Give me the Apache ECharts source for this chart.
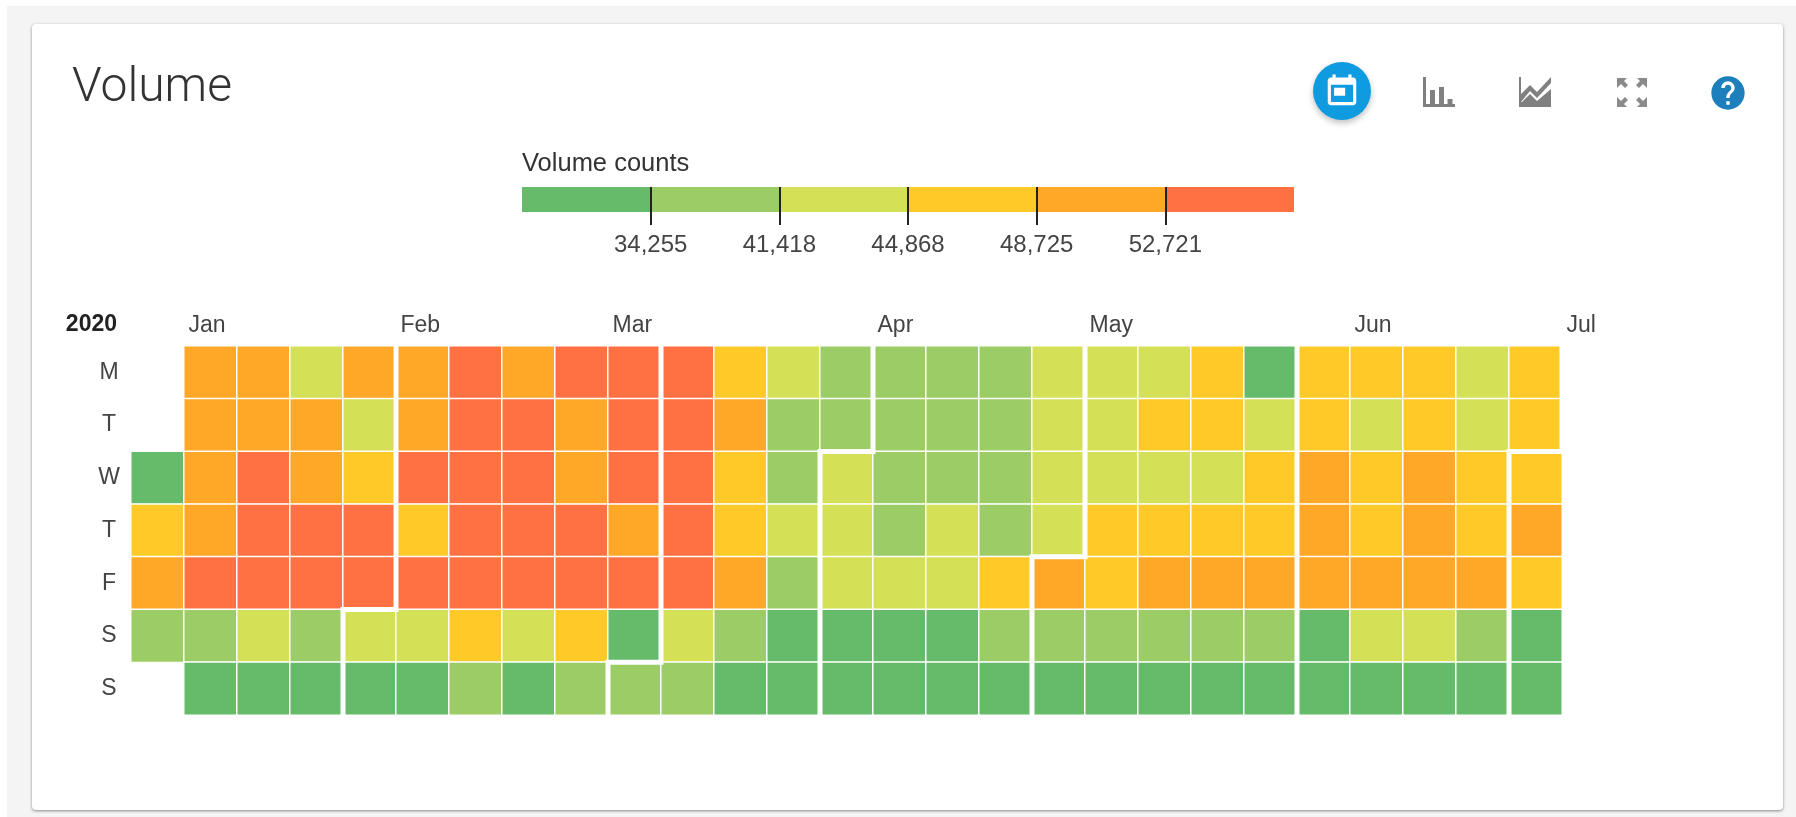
<!DOCTYPE html>
<html>
<head>
<meta charset="utf-8">
<title>Volume</title>
<script src="https://cdn.jsdelivr.net/npm/echarts@6/dist/echarts.min.js"></script>
<style>
    html, body { margin: 0; height: 100%; background: #fff; overflow: hidden; }
    .page { position: absolute; left: 7px; top: 6px; right: 0; bottom: 0; background: #f4f4f4; }
    .card {
        position: absolute; left: 32px; top: 24px; width: 1751px; height: 786px;
        background: #fff; border-radius: 4px; box-shadow: 0 1px 3px rgba(0, 0, 0, .45);
    }
    #chart { position: absolute; left: 0; top: 0; width: 1796px; height: 817px; }
    .icon { position: absolute; }
    .active { left: 1313px; top: 62px; width: 58px; height: 58px; border-radius: 50%; background: #0f9be0; box-shadow: 0 3px 6px rgba(0, 0, 0, .25); }
</style>
</head>
<body>
<div class="page"></div>
<div class="card"></div>
<div id="chart"></div>

<div class="icon active"></div>
<svg class="icon" style="left:1323px;top:72px" width="38" height="38" viewBox="0 0 24 24"><path fill="#fff" d="M16 1.500v2H8v-2H6v2H5c-1.100 0-2 .9-2 2V19c0 1.100.9 2 2 2h14c1.100 0 2-.9 2-2V5.500c0-1.100-.9-2-2-2h-1v-2h-2zM19 19H5V8h14v11zM7 10h7v5H7z"/></svg>
<svg class="icon" style="left:1423px;top:77px" width="32" height="30" viewBox="0 0 32 30"><path fill="#808080" d="M0 0h3v27h29v3H0zM7 13h5v14H7zM16 10h5v17h-5zM24.500 22h5v5h-5z"/></svg>
<svg class="icon" style="left:1519px;top:77px" width="32" height="30" viewBox="0 0 32 30"><path fill="#808080" d="M0 0h2v17L11 8l7 7L32 0v6L18 21l-7-7L2 25h1L11 17l7 7 14-12v18H0z"/></svg>
<svg class="icon" style="left:1617px;top:78px" width="30" height="29" viewBox="0 0 30 29"><path fill="#8a8a8a" d="M0 0h10l-3 3 4 4-3 3-4-4-4 4zM30 0H20l3 3-4 4 3 3 4-4 4 4zM0 29h10l-3-3 4-4-3-3-4 4-4-4zM30 29H20l3-3-4-4 3-3 4 4 4-4z"/></svg>
<svg class="icon" style="left:1708px;top:73px" width="40" height="40" viewBox="0 0 24 24"><path fill="#1d80bd" d="M12 2C6.480 2 2 6.480 2 12s4.480 10 10 10 10-4.480 10-10S17.520 2 12 2zm1 17h-2v-2h2v2zm2.070-7.750l-.9.920C13.450 12.900 13 13.500 13 15h-2v-.5c0-1.100.45-2.100 1.170-2.830l1.240-1.260c.37-.36.59-.86.59-1.410 0-1.100-.9-2-2-2s-2 .9-2 2H8c0-2.210 1.790-4 4-4s4 1.790 4 4c0 .88-.36 1.680-.93 2.250z"/></svg>

<script>
// one label per week column, empty where no month name is printed
const weeks = ['', 'Jan', '', '', '', 'Feb', '', '', '', 'Mar', '', '', '', '', 'Apr', '', '', '', 'May', '', '', '', '', 'Jun', '', '', '', 'Jul'];
const weekdays = ['M', 'T', 'W', 'T', 'F', 'S', 'S'];

// one value per week column, estimated from the colour band of each cell
const monday    = [null, 50000, 50000, 43000, 51000, 50000, 56000, 51000, 56000, 56000, 56000, 47000, 43000, 38000, 38000, 38000, 38000, 43000, 43000, 43000, 47000, 31000, 47000, 47000, 47000, 43000, 47000];
const tuesday   = [null, 50000, 50000, 51000, 43000, 50000, 56000, 56000, 51000, 56000, 56000, 50000, 38000, 38000, 38000, 38000, 38000, 43000, 43000, 47000, 47000, 43000, 47000, 43000, 47000, 43000, 47000];
const wednesday = [31000, 50000, 56000, 51000, 47000, 56000, 56000, 56000, 51000, 56000, 56000, 47000, 38000, 43000, 38000, 38000, 38000, 43000, 43000, 43000, 43000, 47000, 50000, 47000, 50000, 47000, 47000];
const thursday  = [47000, 50000, 56000, 56000, 56000, 47000, 56000, 56000, 56000, 50000, 56000, 47000, 43000, 43000, 38000, 43000, 38000, 43000, 47000, 47000, 47000, 47000, 50000, 47000, 50000, 47000, 50000];
const friday    = [50000, 56000, 56000, 56000, 56000, 56000, 56000, 56000, 56000, 56000, 56000, 50000, 38000, 43000, 43000, 43000, 47000, 50000, 47000, 50000, 50000, 50000, 50000, 50000, 50000, 50000, 47000];
const saturday  = [38000, 38000, 43000, 38000, 43000, 43000, 47000, 43000, 47000, 31000, 43000, 38000, 31000, 31000, 31000, 31000, 38000, 38000, 38000, 38000, 38000, 38000, 31000, 43000, 43000, 38000, 31000];
const sunday    = [null, 31000, 31000, 31000, 31000, 31000, 38000, 31000, 38000, 38000, 38000, 31000, 31000, 31000, 31000, 31000, 31000, 31000, 31000, 31000, 31000, 31000, 31000, 31000, 31000, 31000, 31000];
const rows = [monday, tuesday, wednesday, thursday, friday, saturday, sunday];

// [week column, weekday row] of the first cell of each new month
const monthStarts = [[4, 5], [9, 6], [13, 2], [17, 4], [22, 0], [26, 2]];

const thresholds = [34255, 41418, 44868, 48725, 52721];
const bandColors = ['#66bb6a', '#9ccc65', '#d4e157', '#ffca28', '#ffa726', '#ff7043'];

const cells = [];
rows.forEach((row, r) => row.forEach((v, c) => {
    if (v !== null) cells.push([c, r, v]);
}));

const pieces = bandColors.map((color, i) => {
    const piece = { color: color };
    if (i > 0) piece.gte = thresholds[i - 1];
    if (i < thresholds.length) piece.lt = thresholds[i];
    return piece;
});

const bandTicks = thresholds.map((t, i) => i + 1);
const fontFamily = '"Liberation Sans", Arial, sans-serif';

const chart = echarts.init(document.getElementById('chart'));
chart.setOption({
    animation: false,
    title: [
        {
            text: 'Volume', left: 67, top: 60,
            textStyle: { fontFamily: 'Roboto', fontWeight: 300, fontSize: 48, color: '#333' }
        },
        {
            text: 'Volume counts', left: 517, top: 146,
            textStyle: { fontFamily: fontFamily, fontWeight: 400, fontSize: 25.5, color: '#333' }
        }
    ],
    visualMap: { show: false, type: 'piecewise', seriesIndex: 0, dimension: 2, pieces: pieces },
    grid: [
        { left: 131, top: 346, width: 1484, height: 369 },
        { left: 522, top: 187, width: 772, height: 25 }
    ],
    xAxis: [
        {
            type: 'category', position: 'top', data: weeks,
            axisLine: { show: false }, axisTick: { show: false }, splitLine: { show: false },
            axisLabel: {
                interval: 0, margin: 9, align: 'center',
                formatter: v => v ? '{m|' + v + '}' : '',
                rich: { m: { width: 44, align: 'left', fontFamily: fontFamily, fontSize: 23, color: '#444' } }
            }
        },
        {
            type: 'value', gridIndex: 1, position: 'top', min: 0, max: bandColors.length, z: 5,
            axisLine: { show: false }, splitLine: { show: false },
            axisTick: { show: true, inside: true, length: 38, customValues: bandTicks, lineStyle: { color: '#222', width: 2 } },
            axisLabel: {
                inside: true, margin: 46, customValues: bandTicks,
                formatter: v => (thresholds[v - 1] || 0).toLocaleString('en-US'),
                fontFamily: fontFamily, fontSize: 24, color: '#444'
            }
        }
    ],
    yAxis: [
        {
            type: 'category', inverse: true, data: weekdays,
            axisLine: { show: false }, axisTick: { show: false }, splitLine: { show: false },
            axisLabel: { interval: 0, margin: 22, align: 'center', fontFamily: fontFamily, fontSize: 23, color: '#444' },
            name: '2020', nameLocation: 'start', nameGap: 10,
            nameTextStyle: { align: 'right', padding: [0, 14, 0, 0], fontFamily: fontFamily, fontWeight: 'bold', fontSize: 23, color: '#222' }
        },
        {
            type: 'category', gridIndex: 1, data: ['band'], show: false
        }
    ],
    series: [
        {
            type: 'heatmap',
            data: cells,
            silent: true,
            itemStyle: { borderColor: '#fff', borderWidth: 1.5 }
        },
        {
            // thick white step line where one month ends and the next begins
            type: 'custom',
            data: monthStarts,
            silent: true,
            clip: false,
            z: 3,
            renderItem: function (params, api) {
                const size = api.size([1, 1]);
                const col = api.value(0), row = api.value(1);
                const at = function (c, r) {
                    const p = api.coord([c, r]);
                    return [p[0] - size[0] / 2, p[1] - size[1] / 2];
                };
                const bottom = at(col, 6)[1] + size[1];
                const points = [[at(col, 0)[0], bottom], at(col, row), at(col + 1, row), at(col + 1, 0)];
                return {
                    type: 'polyline',
                    shape: { points: row === 0 ? [points[0], at(col, 0)] : points },
                    style: { fill: 'none', stroke: '#fff', lineWidth: 5 }
                };
            }
        }
    ].concat(bandColors.map(color => ({
        type: 'bar',
        stack: 'bands',
        xAxisIndex: 1,
        yAxisIndex: 1,
        barWidth: '100%',
        silent: true,
        itemStyle: { color: color },
        data: [1]
    })))
});
</script>
</body>
</html>
